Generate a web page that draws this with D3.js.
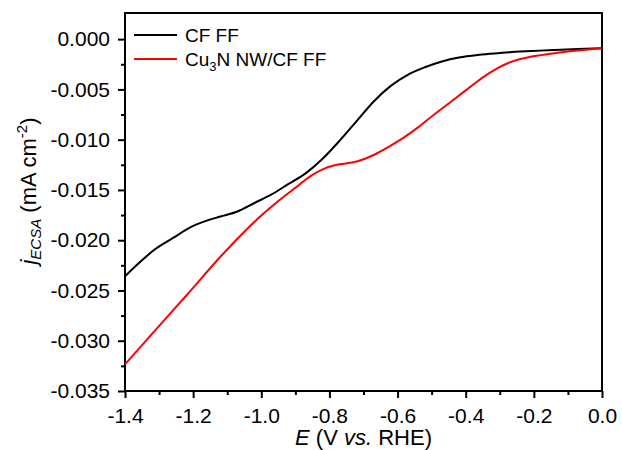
<!DOCTYPE html>
<html>
<head>
<meta charset="utf-8">
<script src="https://cdn.jsdelivr.net/npm/d3@7"></script>
<style>
  body { margin: 0; background: #fff; }
  text { font-family: "Liberation Sans", Arial, sans-serif; fill: #000; }
</style>
</head>
<body>
<div id="vis"></div>
<script>
// Frame
const FRAME_WIDTH = 622;
const FRAME_HEIGHT = 450;
const MARGINS = {left: 125, right: 20, top: 13, bottom: 59};
const VIS_WIDTH = FRAME_WIDTH - MARGINS.left - MARGINS.right;
const VIS_HEIGHT = FRAME_HEIGHT - MARGINS.top - MARGINS.bottom;

// Data
const E_CF = [-1.40, -1.36, -1.31, -1.26, -1.21, -1.16, -1.12, -1.07, -1.02, -0.97,
              -0.92, -0.87, -0.82, -0.77, -0.72, -0.67, -0.62, -0.57, -0.52, -0.47,
              -0.42, -0.36, -0.30, -0.24, -0.14, -0.07, 0.00];
const J_CF = [-0.02360, -0.02230, -0.02085, -0.01980, -0.01875, -0.01805, -0.01765, -0.01715, -0.01630, -0.01545,
              -0.01440, -0.01335, -0.01190, -0.01010, -0.00815, -0.00620, -0.00465, -0.00355, -0.00280, -0.00222,
              -0.00182, -0.00155, -0.00138, -0.00123, -0.00107, -0.00098, -0.00090];

const E_CU3N = [-1.40, -1.32, -1.22, -1.12, -1.06, -1.00, -0.95, -0.90, -0.85, -0.81,
                -0.77, -0.73, -0.70, -0.66, -0.62, -0.58, -0.54, -0.50, -0.45, -0.40,
                -0.37, -0.34, -0.31, -0.28, -0.25, -0.21, -0.15, -0.08, 0.00];
const J_CU3N = [-0.03235, -0.02930, -0.02550, -0.02165, -0.01950, -0.01755, -0.01610, -0.01478, -0.01350, -0.01280,
                -0.01245, -0.01225, -0.01195, -0.01135, -0.01060, -0.00975, -0.00878, -0.00770, -0.00640, -0.00510,
                -0.00432, -0.00358, -0.00295, -0.00245, -0.00208, -0.00175, -0.00145, -0.00115, -0.00090];

const X_TICKS = [-1.4, -1.2, -1.0, -0.8, -0.6, -0.4, -0.2, 0.0];
const Y_TICKS = [0.000, -0.005, -0.010, -0.015, -0.020, -0.025, -0.030, -0.035];

const FRAME = d3.select("#vis")
                .append("svg")
                  .attr("width", FRAME_WIDTH)
                  .attr("height", FRAME_HEIGHT);

const X_SCALE = d3.scaleLinear().domain([-1.4, 0]).range([0, VIS_WIDTH]);
const Y_SCALE = d3.scaleLinear().domain([-0.035, 0.0026]).range([VIS_HEIGHT, 0]);

const G = FRAME.append("g")
               .attr("transform", "translate(" + MARGINS.left + "," + MARGINS.top + ")");

// plain hyphen instead of unicode minus
const fmt = (spec) => (d) => d3.format(spec)(d).replace("\u2212", "-");

// minor ticks
const xMinor = d3.range(-1.3, 0, 0.2);
const yMinor = d3.range(-0.0325, 0.002, 0.005);

G.append("g")
   .attr("transform", "translate(0," + VIS_HEIGHT + ")")
   .call(d3.axisBottom(X_SCALE).tickValues(xMinor).tickSize(4).tickFormat(""))
   .call(g => g.select(".domain").remove())
   .selectAll("line").attr("stroke-width", 2);

G.append("g")
   .call(d3.axisLeft(Y_SCALE).tickValues(yMinor).tickSize(4).tickFormat(""))
   .call(g => g.select(".domain").remove())
   .selectAll("line").attr("stroke-width", 2);

// major ticks
const xAxis = G.append("g")
   .attr("transform", "translate(0," + VIS_HEIGHT + ")")
   .call(d3.axisBottom(X_SCALE).tickValues(X_TICKS).tickSize(7).tickPadding(10)
           .tickFormat(fmt(".1f")));
xAxis.select(".domain").remove();
xAxis.selectAll("line").attr("stroke-width", 2);
xAxis.selectAll("text").attr("font-size", "21px").attr("fill", "#000");

const yAxis = G.append("g")
   .call(d3.axisLeft(Y_SCALE).tickValues(Y_TICKS).tickSize(7).tickPadding(8)
           .tickFormat(fmt(".3f")));
yAxis.select(".domain").remove();
yAxis.selectAll("line").attr("stroke-width", 2);
yAxis.selectAll("text").attr("font-size", "21px").attr("fill", "#000");

// box
G.append("rect")
   .attr("x", 0).attr("y", 0)
   .attr("width", VIS_WIDTH).attr("height", VIS_HEIGHT)
   .attr("fill", "none").attr("stroke", "#000").attr("stroke-width", 2);

// curves
const line = d3.line()
               .x(d => X_SCALE(d[0]))
               .y(d => Y_SCALE(d[1]))
               .curve(d3.curveMonotoneX);

G.append("path")
   .datum(d3.zip(E_CF, J_CF))
   .attr("d", line)
   .attr("fill", "none").attr("stroke", "#000").attr("stroke-width", 2);

G.append("path")
   .datum(d3.zip(E_CU3N, J_CU3N))
   .attr("d", line)
   .attr("fill", "none").attr("stroke", "#ff0000").attr("stroke-width", 2);

// legend
const legend = G.append("g").attr("transform", "translate(9,22)");
legend.append("line").attr("x1", 0).attr("x2", 43).attr("y1", 0).attr("y2", 0)
      .attr("stroke", "#000").attr("stroke-width", 2);
legend.append("text").attr("x", 51).attr("y", 7).attr("font-size", "19px").text("CF FF");
legend.append("line").attr("x1", 0).attr("x2", 43).attr("y1", 24).attr("y2", 24)
      .attr("stroke", "#ff0000").attr("stroke-width", 2);
const t2 = legend.append("text").attr("x", 51).attr("y", 31).attr("font-size", "19px");
t2.append("tspan").text("Cu");
t2.append("tspan").attr("font-size", "13px").attr("dy", 5).text("3");
t2.append("tspan").attr("dy", -5).text("N NW/CF FF");

// x title
const xt = FRAME.append("text")
   .attr("x", MARGINS.left + VIS_WIDTH / 2)
   .attr("y", 445)
   .attr("text-anchor", "middle")
   .attr("font-size", "22px");
xt.append("tspan").attr("font-style", "italic").text("E");
xt.append("tspan").text(" (V ");
xt.append("tspan").attr("font-style", "italic").text("vs.");
xt.append("tspan").text(" RHE)");

// y title
const yt = FRAME.append("text")
   .attr("transform", "translate(36,191) rotate(-90)")
   .attr("text-anchor", "middle")
   .attr("font-size", "22px");
yt.append("tspan").attr("font-style", "italic").text("j");
yt.append("tspan").attr("font-style", "italic").attr("font-size", "15px").attr("dy", 5).text("ECSA");
yt.append("tspan").attr("dy", -5).text(" (mA cm");
yt.append("tspan").attr("font-size", "15px").attr("dy", -9).text("-2");
yt.append("tspan").attr("dy", 9).text(")");
</script>
</body>
</html>
